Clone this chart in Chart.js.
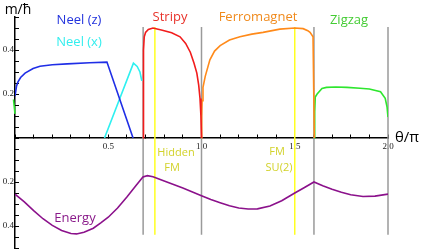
<!DOCTYPE html>
<html>
<head>
<meta charset="utf-8">
<script src="https://cdn.jsdelivr.net/npm/chart.js@4.4.1/dist/chart.umd.min.js"></script>
<style>
  html, body { margin: 0; padding: 0; background: #fff; }
</style>
</head>
<body>
<canvas id="phaseChart" width="421" height="249"></canvas>
<script>
// theta / pi on the x axis, m / hbar (top) and energy (bottom) on the y axis
const neelZTheta = [0, 0.008, 0.016, 0.03, 0.054, 0.097, 0.134, 0.2, 0.28, 0.4, 0.493, 0.633];
const neelZValues = [0.19, 0.235, 0.255, 0.275, 0.295, 0.316, 0.326, 0.333, 0.337, 0.342, 0.345, 0];

const neelXTheta = [0.48, 0.635, 0.655, 0.67, 0.68];
const neelXValues = [0, 0.34, 0.325, 0.3, 0.26];

const stripyTheta = [0.687, 0.688, 0.69, 0.693, 0.7, 0.715, 0.74, 0.79, 0.84, 0.885, 0.915, 0.94, 0.96, 0.975, 0.985, 0.992, 0.997, 1.0];
const stripyValues = [0, 0.2, 0.4, 0.46, 0.48, 0.493, 0.5, 0.49, 0.478, 0.46, 0.43, 0.39, 0.34, 0.295, 0.24, 0.18, 0.1, 0];

const fmTheta = [1.0, 1.001, 1.003, 1.008, 1.02, 1.045, 1.07, 1.1, 1.15, 1.206, 1.27, 1.33, 1.42, 1.5, 1.545, 1.57, 1.582, 1.598, 1.605];
const fmValues = [0, 0.1, 0.17, 0.23, 0.28, 0.355, 0.395, 0.42, 0.445, 0.46, 0.472, 0.48, 0.495, 0.5, 0.497, 0.488, 0.48, 0.46, 0];

const zigzagTheta = [1.605, 1.607, 1.61, 1.62, 1.646, 1.67, 1.72, 1.78, 1.85, 1.9, 1.96, 1.985, 1.995, 2.0];
const zigzagValues = [0, 0.12, 0.186, 0.2, 0.225, 0.23, 0.232, 0.23, 0.226, 0.223, 0.21, 0.18, 0.14, 0.095];
const zigzagWrapTheta = [-0.008, 0];
const zigzagWrapValues = [0.175, 0.11];

const energyTheta = [0, 0.05, 0.1, 0.15, 0.2, 0.25, 0.3, 0.33, 0.37, 0.42, 0.46, 0.5, 0.55, 0.6, 0.65, 0.686, 0.71, 0.74, 0.8, 0.9, 1.0, 1.05, 1.1, 1.15, 1.2, 1.25, 1.3, 1.367, 1.43, 1.5, 1.55, 1.603, 1.65, 1.7, 1.75, 1.8, 1.866, 1.93, 2.0];
const energyValues = [-0.255, -0.29, -0.33, -0.367, -0.397, -0.42, -0.434, -0.436, -0.428, -0.41, -0.386, -0.36, -0.318, -0.268, -0.215, -0.177, -0.171, -0.176, -0.195, -0.227, -0.262, -0.279, -0.294, -0.308, -0.318, -0.323, -0.322, -0.309, -0.285, -0.25, -0.226, -0.2, -0.217, -0.233, -0.247, -0.258, -0.266, -0.264, -0.255];

const phaseBoundaries = [0.687, 1.0, 1.603, 2.0];
const specialPoints = [0.75, 1.5];
const markerTop = 0.505;
const markerBottom = -0.44;

const xLabelTicks = [0.5, 1.0, 1.5, 2.0];
const yLabelTicks = [0.2, 0.4];

function toPoints(xs, ys) {
    return xs.map(function (x, i) { return { x: x, y: ys[i] }; });
}

function curve(data, color) {
    return {
        data: data,
        borderColor: color,
        borderWidth: 1.6,
        pointRadius: 0,
        tension: 0,
        fill: false
    };
}

function marker(x, color) {
    return {
        data: [{ x: x, y: markerTop }, { x: x, y: markerBottom }],
        borderColor: color,
        borderWidth: 1.5,
        pointRadius: 0,
        fill: false,
        clip: false
    };
}

const datasets = [
    curve(toPoints(neelZTheta, neelZValues), '#1f2ee6'),
    curve(toPoints(neelXTheta, neelXValues), '#2ef0f0'),
    curve(toPoints(stripyTheta, stripyValues), '#f21c1c'),
    curve(toPoints(fmTheta, fmValues), '#ff8a1a'),
    curve(toPoints(zigzagTheta, zigzagValues), '#2ee62e'),
    Object.assign(curve(toPoints(zigzagWrapTheta, zigzagWrapValues), '#2ee62e'), { clip: false }),
    curve(toPoints(energyTheta, energyValues), '#8b118b')
];
specialPoints.forEach(function (x) { datasets.push(marker(x, '#ffff22')); });
phaseBoundaries.forEach(function (x) { datasets.push(marker(x, '#9a9a9a')); });

const textLabels = {
    id: 'textLabels',
    afterDraw: function (chart) {
        const ctx = chart.ctx;
        const items = [
            ['m/ħ', 18, 10, '#000', '14px "Open Sans"'],
            ['Neel (z)', 79, 20, '#2233dd', '13px "Open Sans"'],
            ['Neel (x)', 79, 42, '#33eeee', '13px "Open Sans"'],
            ['Stripy', 170, 17, '#e8322a', '13px "Open Sans"'],
            ['Ferromagnet', 258, 17, '#f08a1c', '13px "Open Sans"'],
            ['Zigzag', 349, 20, '#44cc33', '13px "Open Sans"'],
            ['Energy', 75, 218, '#8a1a8a', '13px "Open Sans"'],
            ['Hidden', 176, 153, '#d2d22a', '11px "Open Sans"'],
            ['FM', 172, 168, '#d2d22a', '11px "Open Sans"'],
            ['FM', 277, 152, '#d2d22a', '11px "Open Sans"'],
            ['SU(2)', 279, 168, '#d2d22a', '11px "Open Sans"'],
            ['θ/π', 407, 138, '#000', '15px "Open Sans"']
        ];
        ctx.save();
        ctx.textAlign = 'center';
        ctx.textBaseline = 'middle';
        items.forEach(function (it) {
            ctx.fillStyle = it[3];
            ctx.font = it[4];
            ctx.fillText(it[0], it[1], it[2]);
        });
        ctx.restore();
    }
};

new Chart(document.getElementById('phaseChart').getContext('2d'), {
    type: 'line',
    data: { datasets: datasets },
    options: {
        responsive: false,
        animation: false,
        layout: { padding: { top: 17, right: 33, bottom: 1, left: 0 } },
        plugins: { legend: { display: false }, tooltip: { enabled: false } },
        scales: {
            x: {
                type: 'linear',
                min: 0,
                max: 2,
                position: { y: 0 },
                afterFit: function (s) { s.height = 0; s.paddingLeft = 0; s.paddingRight = 0; },
                border: { color: '#000', width: 1.5 },
                grid: { drawOnChartArea: false, tickLength: -4, color: '#000', lineWidth: 1 },
                ticks: {
                    stepSize: 0.1,
                    padding: 7,
                    maxRotation: 0,
                    autoSkip: false,
                    color: '#222',
                    font: { family: '"Liberation Serif"', size: 9 },
                    callback: function (v) {
                        return xLabelTicks.some(function (t) { return Math.abs(t - v) < 1e-6; }) ? v.toFixed(1) : '';
                    }
                }
            },
            y: {
                type: 'linear',
                min: -0.5,
                max: 0.55,
                position: 'left',
                afterFit: function (s) { s.width = 15; s.paddingTop = 0; s.paddingBottom = 0; },
                border: { color: '#000', width: 1.5 },
                grid: { drawOnChartArea: false, tickLength: -4, color: '#000', lineWidth: 1 },
                ticks: {
                    stepSize: 0.05,
                    padding: 5,
                    autoSkip: false,
                    color: '#222',
                    font: { family: '"Liberation Serif"', size: 9 },
                    callback: function (v) {
                        const a = Math.abs(v);
                        return yLabelTicks.some(function (t) { return Math.abs(t - a) < 1e-6; }) ? a.toFixed(1) : '';
                    }
                }
            }
        }
    },
    plugins: [textLabels]
});
</script>
</body>
</html>
